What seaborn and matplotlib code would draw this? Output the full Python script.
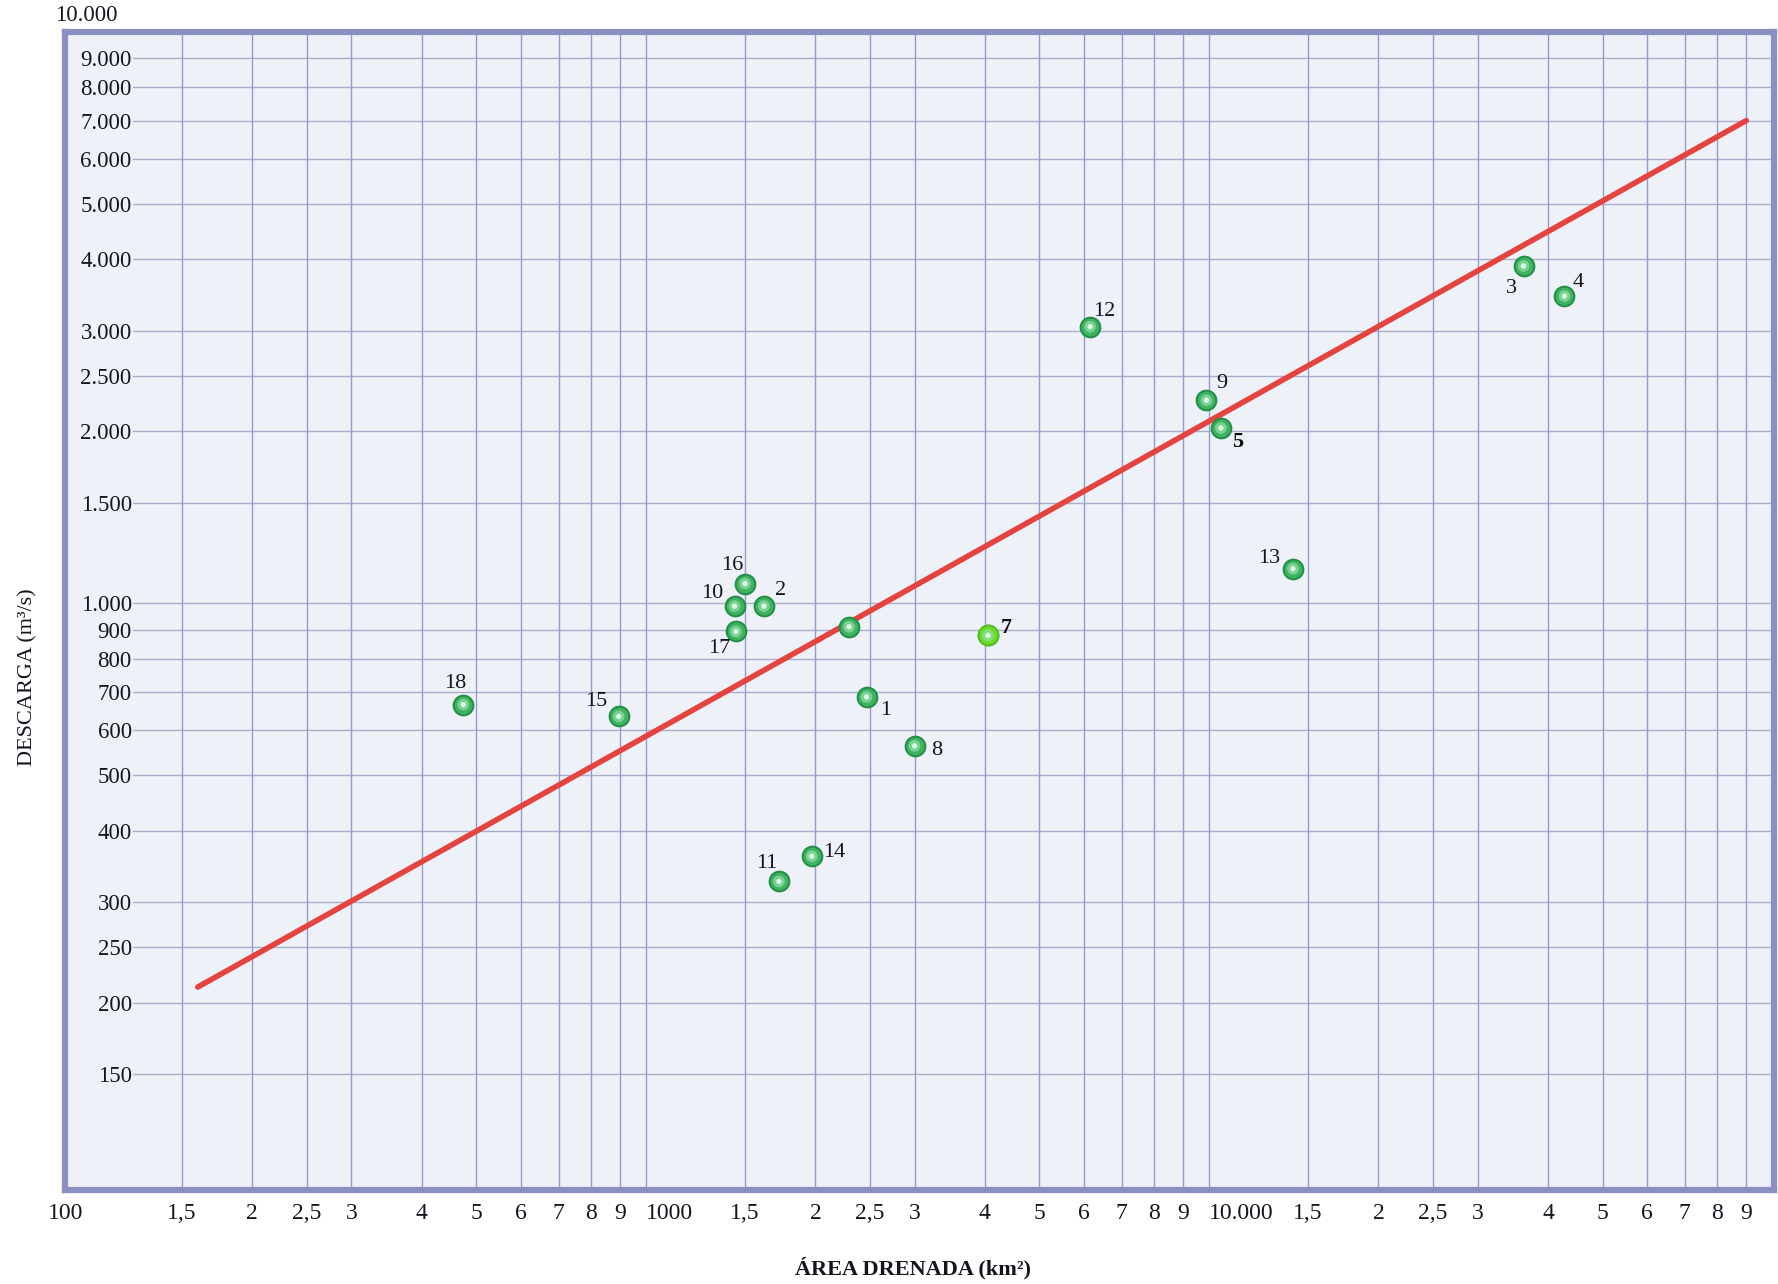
import numpy as np
import pandas as pd
import matplotlib.pyplot as plt
import seaborn as sns

# estações: número, área drenada (km²) e descarga (m³/s)
station = ['18', '15', '17', '10', '16', '2', '', '1', '8', '11', '14', '7', '12', '9', '5', '13', '3', '4']
area = [474, 895, 1445, 1437, 1500, 1620, 2295, 2465, 3000, 1723, 1971, 4050, 6150, 9900, 10500, 14100, 36200, 42800]
discharge = [665, 634, 893, 989, 1083, 989, 910, 686, 563, 326, 361, 879, 3051, 2267, 2028, 1150, 3895, 3451]

# reta de regressão (extremos desenhados)
fit_area = [160, 90000]
fit_discharge = [213, 7000]

x_ticks = [100, 150, 200, 250, 300, 400, 500, 600, 700, 800, 900,
           1000, 1500, 2000, 2500, 3000, 4000, 5000, 6000, 7000, 8000, 9000,
           10000, 15000, 20000, 25000, 30000, 40000, 50000, 60000, 70000, 80000, 90000]
x_labels = ['100', '1,5', '2', '2,5', '3', '4', '5', '6', '7', '8', '9',
            '1000', '1,5', '2', '2,5', '3', '4', '5', '6', '7', '8', '9',
            '10.000', '1,5', '2', '2,5', '3', '4', '5', '6', '7', '8', '9']
y_ticks = [150, 200, 250, 300, 400, 500, 600, 700, 800, 900,
           1000, 1500, 2000, 2500, 3000, 4000, 5000, 6000, 7000, 8000, 9000]
y_labels = ['150', '200', '250', '300', '400', '500', '600', '700', '800', '900',
            '1.000', '1.500', '2.000', '2.500', '3.000', '4.000', '5.000', '6.000', '7.000', '8.000', '9.000']

# deslocamento dos rótulos das estações (pontos)
label_offset = {
    '18': (-6, 15), '15': (-16, 11), '17': (-12, -12), '10': (-16, 9), '16': (-9, 13),
    '2': (12, 11), '1': (14, -10), '8': (16, -3), '11': (-9, 13), '14': (16, 3),
    '7': (13, 5), '12': (10, 11), '9': (11, 12), '5': (12, -10), '13': (-17, 7),
    '3': (-9, -16), '4': (10, 10),
}

sns.set_theme(style='white')
plt.rcParams['font.family'] = ['Liberation Serif', 'DejaVu Serif']
text_color = '#15151f'

df = pd.DataFrame({'station': station, 'area': area, 'discharge': discharge})
fit = pd.DataFrame({'area': fit_area, 'discharge': fit_discharge})

fig = plt.figure(figsize=(17.78, 12.84), dpi=100)
ax = fig.add_axes([0.0366, 0.0732, 0.9614, 0.9018])
ax.set_xscale('log')
ax.set_yscale('log')
ax.set_xlim(93, 101000)
ax.set_ylim(94, 10000)
ax.set_facecolor('#eef2f8')

# grade do papel log-log
for v in x_ticks[1:]:
    ax.axvline(v, color='#7e86c0', lw=1.0, alpha=0.8, zorder=1)
for v in y_ticks + [10000]:
    ax.axhline(v, xmin=0.04, color='#979dbf', lw=1.0, alpha=0.8, zorder=1)

sns.lineplot(data=fit, x='area', y='discharge', color='#e5433f', lw=4, ax=ax, zorder=3)

sns.scatterplot(data=df, x='area', y='discharge', s=200, color='#3fb360',
                edgecolor='#239049', linewidth=1.5, ax=ax, zorder=4)
sns.scatterplot(data=df[df['station'] == '7'], x='area', y='discharge', s=200,
                color='#6fdc2c', edgecolor='#55c41e', linewidth=1.5, ax=ax, zorder=5)
sns.scatterplot(data=df, x='area', y='discharge', s=70, color='#8fdca6',
                edgecolor='none', alpha=0.75, ax=ax, zorder=6)
sns.scatterplot(data=df, x='area', y='discharge', s=15, color='#e4fbe9',
                edgecolor='none', alpha=0.9, ax=ax, zorder=6)

for _, row in df.iterrows():
    if row['station'] == '':
        continue
    dx, dy = label_offset[row['station']]
    bold = row['station'] in ('5', '7')
    ax.annotate(row['station'], (row['area'], row['discharge']), xytext=(dx, dy),
                textcoords='offset points', ha='center', va='center', fontsize=16,
                color='#0d0d0d' if bold else text_color,
                fontweight='bold' if bold else 'normal', zorder=7)

ax.xaxis.set_minor_locator(plt.NullLocator())
ax.yaxis.set_minor_locator(plt.NullLocator())
ax.set_xticks(x_ticks)
ax.set_xticklabels(x_labels, fontsize=17, color=text_color)
for lbl in ax.get_xticklabels():
    if lbl.get_text() in ('1000', '10.000'):
        lbl.set_horizontalalignment('left')
    elif lbl.get_text() == '100':
        lbl.set_horizontalalignment('right')
ax.set_yticks(y_ticks)
ax.set_yticklabels(y_labels, fontsize=16.5, color=text_color)
ax.tick_params(axis='x', length=0, pad=9)
ax.tick_params(axis='y', length=0, pad=-48)
ax.annotate('10.000', (0, 1), xycoords='axes fraction', xytext=(38, 12),
            textcoords='offset points', ha='right', va='center', fontsize=16.5,
            color=text_color, annotation_clip=False)

ax.set_xlabel('ÁREA DRENADA (km²)', fontsize=16, fontweight='bold', color=text_color)
ax.set_ylabel('DESCARGA (m³/s)', fontsize=16, color=text_color)
ax.xaxis.set_label_coords(0.496, -0.058)
ax.yaxis.set_label_coords(-0.016, 0.443)

for s in ax.spines.values():
    s.set_visible(True)
    s.set_color('#8a90c2')
    s.set_linewidth(4.5)

fig.savefig('out.png', dpi=100, facecolor='white')
